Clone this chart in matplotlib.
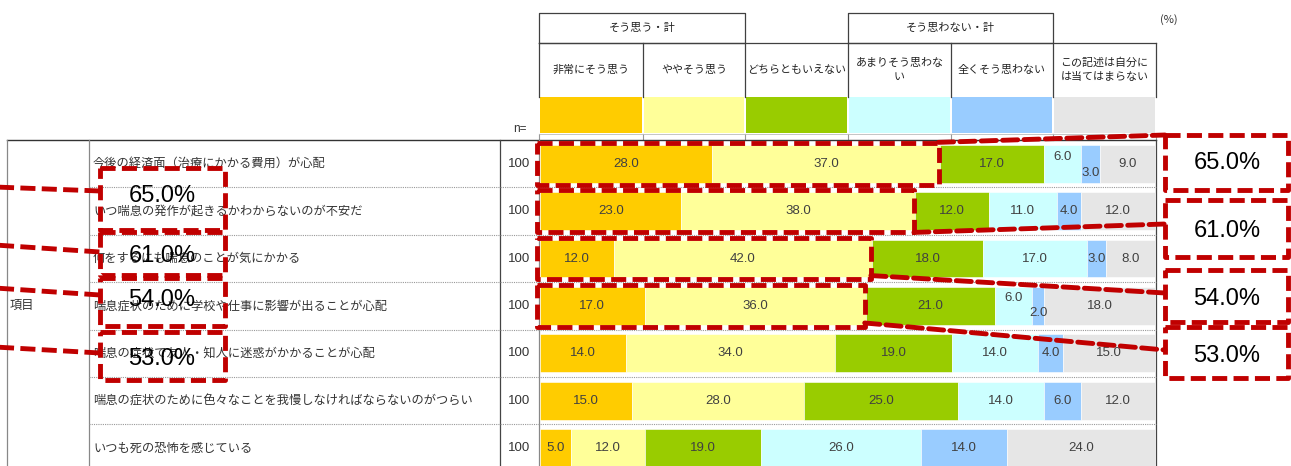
import matplotlib
matplotlib.use('Agg')
import matplotlib.pyplot as plt
from matplotlib.patches import Rectangle, ConnectionPatch

plt.rcParams['font.family'] = ['Noto Sans CJK JP', 'DejaVu Sans']

items = [
    '今後の経済面（治療にかかる費用）が心配',
    'いつ喘息の発作が起きるかわからないのが不安だ',
    '何をするにも喘息のことが気にかかる',
    '喘息症状のために学校や仕事に影響が出ることが心配',
    '喘息の症状で友人・知人に迷惑がかかることが心配',
    '喘息の症状のために色々なことを我慢しなければならないのがつらい',
    'いつも死の恐怖を感じている',
]
n_values = [100, 100, 100, 100, 100, 100, 100]
series_names = ['非常にそう思う', 'ややそう思う', 'どちらともいえない',
                'あまりそう思わな\nい', '全くそう思わない', 'この記述は自分に\nは当てはまらない']
very = [28, 23, 12, 17, 14, 15, 5]
somewhat = [37, 38, 42, 36, 34, 28, 12]
neutral = [17, 12, 18, 21, 19, 25, 19]
not_much = [6, 11, 17, 6, 14, 14, 26]
not_at_all = [3, 4, 3, 2, 4, 6, 14]
not_apply = [9, 12, 8, 18, 15, 12, 24]
series = [very, somewhat, neutral, not_much, not_at_all, not_apply]
colors = ['#FFCC00', '#FFFF99', '#99CC00', '#CCFFFF', '#99CCFF', '#E6E6E6']
group_agree = 'そう思う・計'
group_disagree = 'そう思わない・計'
highlight_rows = [0, 1, 2, 3]   # rows with red "agree total" callouts

W, H = 1291, 466
ROW_H = 47.4
TOP = 140
RED = '#C00000'
NUM_FONT = ['Liberation Sans', 'DejaVu Sans']

fig = plt.figure(figsize=(W / 100, H / 100), dpi=100)

# background layer in pixel coords: table grid and header
bg = fig.add_axes([0, 0, 1, 1], zorder=0)
bg.set_xlim(0, W)
bg.set_ylim(H, 0)
bg.axis('off')

# bar axes: 0..100 % over x 540..1155 px
ax = fig.add_axes([540 / W, 0, 615 / W, (H - TOP) / H], zorder=1)
ax.patch.set_alpha(0)
ax.set_xlim(0, 100)
ax.set_ylim(-0.5 + (H - TOP) / ROW_H, -0.5)
ax.axis('off')

# top layer for red callouts
top = fig.add_axes([0, 0, 1, 1], zorder=2)
top.patch.set_alpha(0)
top.set_xlim(0, W)
top.set_ylim(H, 0)
top.axis('off')

# ---- header ----
cols = [539, 643, 745, 848, 951, 1053, 1156]
line_kw = dict(color='#404040', lw=0.9)
for (a, b), lab in [((0, 2), group_agree), ((3, 5), group_disagree)]:
    x0, x1 = cols[a], cols[b]
    bg.plot([x0, x1, x1, x0, x0], [43, 43, 13, 13, 43], **line_kw)
    bg.text((x0 + x1) / 2, 28, lab, ha='center', va='center', fontsize=8.0, color='#222222')
bg.plot([cols[0], cols[-1]], [43, 43], **line_kw)
for x in cols:
    bg.plot([x, x], [43, 97], **line_kw)
for i, (name, c) in enumerate(zip(series_names, colors)):
    xc = (cols[i] + cols[i + 1]) / 2
    bg.text(xc, 70, name, ha='center', va='center', fontsize=7.9, color='#222222',
            linespacing=1.5)
    bg.add_patch(Rectangle((cols[i] + 1, 97), cols[i + 1] - cols[i] - 2, 36,
                           facecolor=c, edgecolor='none'))
for x in cols:
    bg.plot([x, x], [134, 140], color='#999999', lw=0.8)
bg.plot([cols[0], cols[-1]], [134, 134], color='#bbbbbb', lw=0.6)
bg.text(1160, 20, '(%)', ha='left', va='center', fontsize=8, color='#333333')
bg.text(520, 129, 'n=', ha='center', va='center', fontsize=8.5, color='#333333',
        family=NUM_FONT)

# ---- table grid ----
bg.plot([7, 1156], [TOP, TOP], color='#333333', lw=1.0)
for x, c in [(7, '#888888'), (89, '#888888'), (500, '#444444'), (539, '#888888'), (1156, '#444444')]:
    bg.plot([x, x], [TOP, H], color=c, lw=0.9)
for k in range(1, len(items)):
    y = TOP + ROW_H * k
    bg.plot([89, 1156], [y, y], color='#999999', lw=0.8, ls=(0, (1, 1)))
bg.text(10, TOP + ROW_H * 3.5, '項目', ha='left', va='center', fontsize=8.8, color='#333333')
for i, (lab, n) in enumerate(zip(items, n_values)):
    y = TOP + ROW_H * (i + 0.5)
    bg.text(93, y, lab, ha='left', va='center', fontsize=8.8, color='#333333')
    bg.text(519, y, str(n), ha='center', va='center', fontsize=9.5, color='#333333',
            family=NUM_FONT)

# ---- stacked bars ----
nudge = {(0, 3): -0.15, (0, 4): 0.2, (3, 3): -0.17, (3, 4): 0.15}
ypos = list(range(len(items)))
left = [0] * len(items)
for j, (vals, c) in enumerate(zip(series, colors)):
    ax.barh(ypos, vals, left=left, height=0.8, color=c, edgecolor='white', linewidth=0.4)
    for i, v in enumerate(vals):
        ax.text(left[i] + v / 2, i + nudge.get((i, j), 0), f'{v:.1f}', ha='center',
                va='center', fontsize=9.5, color='#404040', family=NUM_FONT)
    left = [l + v for l, v in zip(left, vals)]

# ---- red callouts ----
dash_ls = (0, (3.1, 1.3))
right_boxes = [(135, 190), (200, 257), (270, 322), (327, 378)]
right_text_y = [163, 231, 299, 356]
conn_from = [-0.45, 0.45, 0.36, 0.36]
conn_to = [135, 224, 293, 350]
left_boxes = [(168, 230), (232, 275), (278, 326), (332, 380)]
left_text_y = [196, 256, 300, 359]
left_line = [(187, 191), (245, 252), (288, 295), (347, 353)]

for k, i in enumerate(highlight_rows):
    total = very[i] + somewhat[i]
    label = f'{total:.1f}%'
    # box around the agree part of the bar
    ax.add_patch(Rectangle((-0.5, i - 0.44), total + 0.3, 0.88, fill=False,
                           clip_on=False, zorder=5, joinstyle='round',
                           edgecolor=RED, lw=3.5, ls=dash_ls))
    con = ConnectionPatch(xyA=(total - 0.2, i + conn_from[k]), coordsA=ax.transData,
                          xyB=(1165, conn_to[k]), coordsB=top.transData,
                          color=RED, lw=3.5, ls=dash_ls, zorder=5)
    top.add_artist(con)
    # right boxes
    y0, y1 = right_boxes[k]
    top.add_patch(Rectangle((1165, y0), 123, y1 - y0, fill=False, edgecolor=RED,
                            lw=3.5, ls=dash_ls, joinstyle='round'))
    top.text(1227, right_text_y[k], label, ha='center', va='center', fontsize=17,
             color='black', family=NUM_FONT)
    # left boxes
    y0, y1 = left_boxes[k]
    top.add_patch(Rectangle((100, y0), 125, y1 - y0, fill=False, edgecolor=RED,
                            lw=3.5, ls=dash_ls, joinstyle='round'))
    top.plot([-5, 100], list(left_line[k]), color=RED, lw=3.5, ls=dash_ls)
    top.text(162, left_text_y[k], label, ha='center', va='center', fontsize=17,
             color='black', family=NUM_FONT)

fig.savefig('out.png', dpi=100)
